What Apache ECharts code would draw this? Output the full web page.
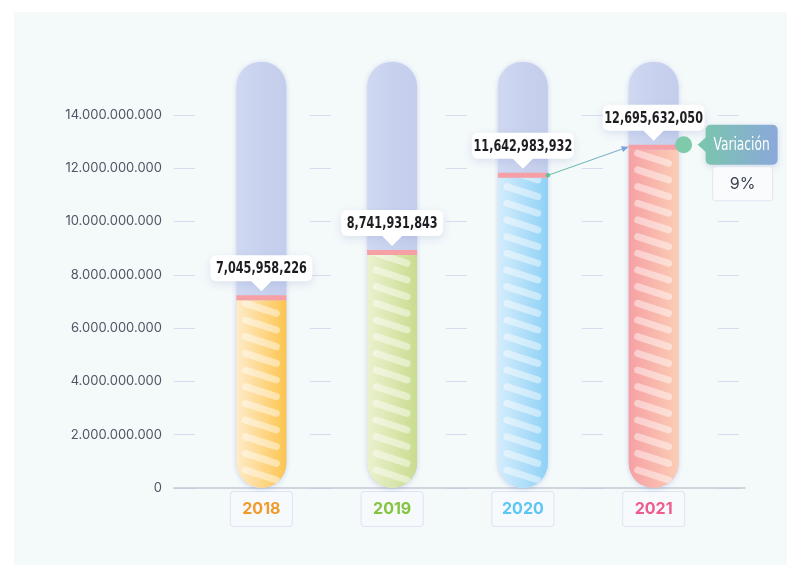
<!DOCTYPE html>
<html>
<head>
<meta charset="utf-8">
<script src="https://cdn.jsdelivr.net/npm/echarts@6/dist/echarts.min.js"></script>
<style>
html,body{margin:0;padding:0;background:#fff;}
#wrap{position:relative;width:787px;height:565px;}
#panel{position:absolute;left:14px;top:12px;width:773px;height:553px;background:#f4f9fa;}
#main{position:absolute;left:0;top:0;width:787px;height:565px;}
</style>
</head>
<body>
<div id="wrap"><div id="panel"></div><div id="main"></div></div>
<script>
// datos
var YEARS = ['2018', '2019', '2020', '2021'];
var TOTALS = [7045958226, 8741931843, 11642983932, 12695632050];
var Y_MAX = 14000000000;
var Y_STEP = 2000000000;
var TUBE_MAX = 16000000000;
var VAR_LABEL = 'Variación';

// colores
var YEAR_COLORS = ['#f09b2c', '#85c441', '#5cc7f3', '#ef5b8b'];
var FILL_COLORS = [
    ['#feebc9', '#fdc54f'],
    ['#ebf1cf', '#c9dc8e'],
    ['#d4edfc', '#8fd1f6'],
    ['#f6a0a4', '#fbcdb5']
];
var NUM_FONT = "'Liberation Sans Narrow', 'DejaVu Sans Condensed', 'Roboto Condensed', sans-serif";
var UI_FONT = "Inter, 'Open Sans', sans-serif";

function dots(v) {
    return String(v).replace(/\B(?=(\d{3})+(?!\d))/g, '.');
}
function commas(v) {
    return String(v).replace(/\B(?=(\d{3})+(?!\d))/g, ',');
}

function renderTube(params, api) {
    var i = params.dataIndex;
    var cat = api.value(0), val = api.value(1);
    var base = api.coord([cat, 0]);
    var x = base[0], y0 = base[1];
    var yv = api.coord([cat, val])[1];
    var yTop = api.coord([cat, TUBE_MAX])[1];
    var bw = 50, r = bw / 2, left = x - r;
    var kids = [];

    // tubo de fondo
    kids.push({
        type: 'rect',
        shape: { x: left, y: yTop, width: bw, height: y0 - yTop, r: r },
        style: {
            fill: new echarts.graphic.LinearGradient(0, 0, 1, 0, [
                { offset: 0, color: '#d0d8f1' }, { offset: 0.5, color: '#c8d2ee' }, { offset: 1, color: '#c4ceec' }
            ]),
            shadowBlur: 5, shadowColor: 'rgba(130,150,210,0.35)', shadowOffsetY: 1
        }
    });
    // relleno
    kids.push({
        type: 'rect',
        shape: { x: left, y: yv, width: bw, height: y0 - yv, r: [0, 0, r, r] },
        style: {
            fill: new echarts.graphic.LinearGradient(0, 0, 1, 0, [
                { offset: 0, color: FILL_COLORS[i][0] }, { offset: 1, color: FILL_COLORS[i][1] }
            ])
        }
    });
    // rayas
    var stripes = [];
    for (var c = y0 - 13; c > yv - 10; c -= 16.67) {
        stripes.push({
            type: 'line',
            shape: { x1: x - 16, y1: c - 5, x2: x + 15, y2: c + 5 },
            style: { stroke: 'rgba(255,255,255,0.45)', lineWidth: 7, lineCap: 'round' }
        });
    }
    kids.push({
        type: 'group',
        children: stripes,
        clipPath: { type: 'rect', shape: { x: left, y: yv, width: bw, height: y0 - yv, r: [0, 0, r, r] } }
    });
    // linea roja
    kids.push({
        type: 'rect',
        shape: { x: left, y: yv - 5, width: bw, height: 5 },
        style: { fill: '#f6a0a5' }
    });
    // etiqueta
    var bb = yv - 19, bh = 26, bt = bb - bh, bwid = 102;
    kids.push({
        type: 'rect',
        shape: { x: x - bwid / 2, y: bt, width: bwid, height: bh, r: 6 },
        style: { fill: '#fff', shadowBlur: 8, shadowColor: 'rgba(110,130,190,0.18)', shadowOffsetY: 3 }
    });
    kids.push({
        type: 'polygon',
        shape: { points: [[x - 11, bb - 1], [x, bb + 10], [x + 11, bb - 1]] },
        style: { fill: '#fff' }
    });
    kids.push({
        type: 'text',
        x: x, y: bt + bh / 2 + 1, scaleX: 0.78,
        style: {
            text: commas(val), x: 0, y: 0, align: 'center', verticalAlign: 'middle',
            fontSize: 16, fontWeight: 'bold', fontFamily: NUM_FONT, fill: '#1e1e22'
        }
    });

    // variacion
    if (i === params.dataInsideLength - 1 && i > 0) {
        var pv = api.value(1, i - 1);
        var prev = api.coord([api.value(0, i - 1), pv]);
        var sx = prev[0] + r, sy = prev[1] - 2.5;
        var ex = left, ey = yv - 3;
        var dx = ex - sx, dy = ey - sy, len = Math.sqrt(dx * dx + dy * dy);
        var ux = dx / len, uy = dy / len;
        var lineGrad = new echarts.graphic.LinearGradient(sx, sy, ex, ey, [
            { offset: 0, color: '#5fc29a' }, { offset: 1, color: '#7ca2d8' }
        ], true);
        kids.push({
            type: 'line',
            shape: { x1: sx, y1: sy, x2: ex - ux * 5, y2: ey - uy * 5 },
            style: { stroke: lineGrad, lineWidth: 1 }
        });
        kids.push({ type: 'circle', shape: { cx: sx, cy: sy, r: 2.2 }, style: { fill: '#5fc29a' } });
        kids.push({
            type: 'polygon',
            shape: { points: [[ex, ey], [ex - ux * 7 - uy * 3, ey - uy * 7 + ux * 3], [ex - ux * 7 + uy * 3, ey - uy * 7 - ux * 3]] },
            style: { fill: '#7ca2d8' }
        });

        var cy = yv - 5;
        kids.push({ type: 'circle', shape: { cx: x + r + 5, cy: cy, r: 8.5 }, style: { fill: '#7ecaa9' } });

        var bl = x + r + 27;
        var badgeGrad = new echarts.graphic.LinearGradient(0, 0, 1, 0, [
            { offset: 0, color: '#7bc4b0' }, { offset: 1, color: '#8ba8da' }
        ]);
        kids.push({
            type: 'rect',
            shape: { x: bl, y: cy - 20, width: 72, height: 40, r: 5 },
            style: { fill: badgeGrad, shadowBlur: 6, shadowColor: 'rgba(100,130,180,0.25)', shadowOffsetY: 2 }
        });
        kids.push({
            type: 'polygon',
            shape: { points: [[bl - 8, cy], [bl + 1, cy - 8], [bl + 1, cy + 8]] },
            style: { fill: '#7bc4b0' }
        });
        kids.push({
            type: 'text',
            x: bl + 36, y: cy + 1, scaleX: 0.8,
            style: {
                text: VAR_LABEL, x: 0, y: 0, align: 'center', verticalAlign: 'middle',
                fontSize: 17, fontFamily: NUM_FONT, fill: '#fff'
            }
        });
        kids.push({
            type: 'rect',
            shape: { x: bl + 7, y: cy + 22, width: 60, height: 34, r: 3 },
            style: { fill: '#f9fbfc', stroke: '#e1e6f1', lineWidth: 1 }
        });
        kids.push({
            type: 'text',
            style: {
                text: Math.round((val - pv) / pv * 100) + '%', x: bl + 37, y: cy + 39,
                align: 'center', verticalAlign: 'middle',
                fontSize: 16, fontFamily: UI_FONT, fill: '#3b4150'
            }
        });
    }
    return { type: 'group', children: kids };
}

var rich = {};
for (var k = 0; k < YEARS.length; k++) {
    rich['c' + k] = {
        color: YEAR_COLORS[k], fontSize: 16, fontWeight: 'bold', fontFamily: UI_FONT,
        width: 37, align: 'center', lineHeight: 18
    };
}

var chart = echarts.init(document.getElementById('main'));
var option = {
    animation: false,
    backgroundColor: 'transparent',
    grid: [
        { left: 174, right: 42, top: 115, bottom: 77 },
        { left: 196, right: 68, top: 115, bottom: 77 }
    ],
    xAxis: [
        {
            gridIndex: 0, type: 'value', min: 0, max: 1,
            axisLine: { show: true, lineStyle: { color: '#c4c8d4', width: 1.5 } },
            axisTick: { show: false }, axisLabel: { show: false }, splitLine: { show: false }
        },
        {
            gridIndex: 1, type: 'category', data: YEARS,
            axisLine: { show: false }, axisTick: { show: false },
            axisLabel: {
                margin: 4,
                formatter: function (v, idx) { return '{c' + idx + '|' + v + '}'; },
                backgroundColor: '#f7fafc', borderColor: '#dfe4f1', borderWidth: 1, borderRadius: 3,
                padding: [8, 12, 8, 12],
                rich: rich
            }
        }
    ],
    yAxis: [
        {
            gridIndex: 0, type: 'value', min: 0, max: Y_MAX, interval: Y_STEP,
            axisLine: { show: false }, axisTick: { show: false },
            axisLabel: { margin: 12, color: '#4f5566', fontSize: 13, fontFamily: UI_FONT, formatter: dots },
            splitLine: { show: true, lineStyle: { color: '#d6dbef', width: 1, type: [21, 115] } }
        },
        { gridIndex: 1, type: 'value', min: 0, max: Y_MAX, show: false }
    ],
    series: [
        {
            type: 'custom',
            xAxisIndex: 1, yAxisIndex: 1,
            clip: false,
            encode: { x: 0, y: 1 },
            data: YEARS.map(function (y, i) { return [i, TOTALS[i]]; }),
            renderItem: renderTube
        }
    ]
};
chart.setOption(option);
</script>
</body>
</html>
